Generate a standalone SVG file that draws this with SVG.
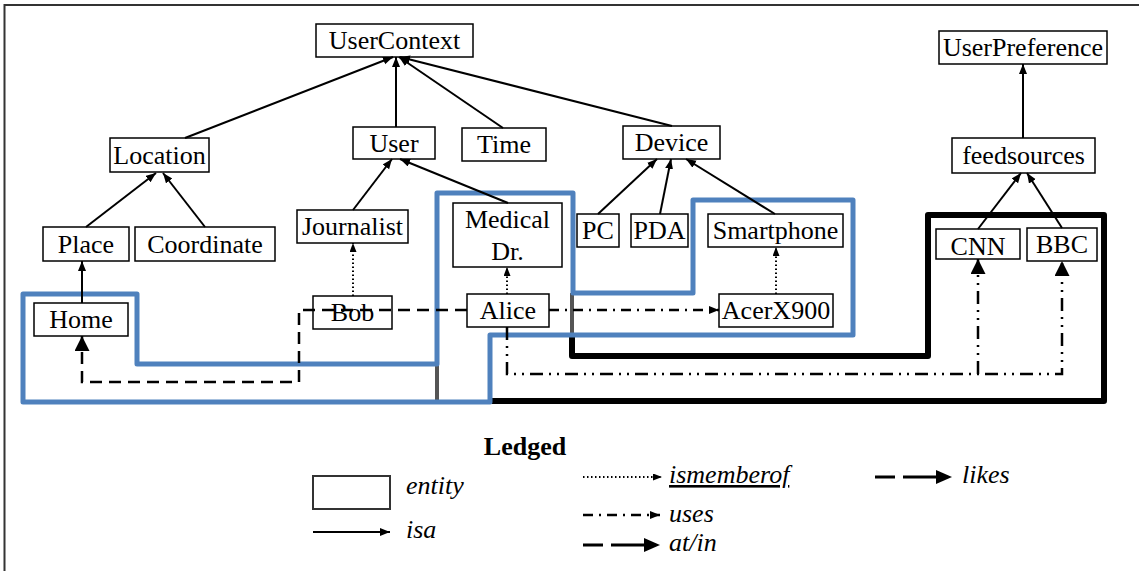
<svg xmlns="http://www.w3.org/2000/svg" width="1139" height="571" viewBox="0 0 1139 571">
  <style>
    .box { fill: #fff; stroke: #000; stroke-width: 1.5; }
    .lbl { font-size: 26px; fill: #000; text-anchor: middle; }
    .leg { font-size: 26px; font-style: italic; fill: #000; }
    .isa { fill: none; stroke: #000; stroke-width: 2; }
    .member { fill: none; stroke: #000; stroke-width: 2; stroke-dasharray: 1.5 2.5; }
    .likes { fill: none; stroke: #000; stroke-width: 2.5; stroke-dasharray: 12 7; }
    .likesKey { fill: none; stroke: #000; stroke-width: 3; stroke-dasharray: 20 8 40; }
    .uses { fill: none; stroke: #000; stroke-width: 2.5; stroke-dasharray: 10 6 2 6; }
    .uses2 { fill: none; stroke: #000; stroke-width: 2.5; stroke-dasharray: 13 6 2 6 2 6; }
    .blue { fill: none; stroke: #4f81bd; stroke-width: 5; stroke-linejoin: round; }
    .black { fill: none; stroke: #000; stroke-width: 6; stroke-linejoin: round; }
    .grey { fill: none; stroke: #555; stroke-width: 4; }
  </style>
  <defs>
    <marker id="arrow" markerUnits="userSpaceOnUse" markerWidth="11" markerHeight="9" refX="10" refY="4" orient="auto">
      <path d="M0,0 L10,4 L0,8 z" fill="#000"/>
    </marker>
    <marker id="arrowSmall" markerUnits="userSpaceOnUse" markerWidth="10" markerHeight="8" refX="9" refY="3.5" orient="auto">
      <path d="M0,0 L9,3.5 L0,7 z" fill="#000"/>
    </marker>
    <marker id="arrowBig" markerUnits="userSpaceOnUse" markerWidth="16" markerHeight="16" refX="15" refY="7.5" orient="auto">
      <path d="M0,0 L15,7.5 L0,15 z" fill="#000"/>
    </marker>
    <marker id="arrowKey" markerUnits="userSpaceOnUse" markerWidth="17" markerHeight="15" refX="0" refY="7" orient="auto">
      <path d="M0,0 L16,7 L0,14 z" fill="#000"/>
    </marker>
  </defs>

  <rect width="1139" height="571" fill="#fff"/>
  <!-- frame -->
  <path d="M4.5,571 V5 H1139" fill="none" stroke="#333" stroke-width="2"/>

  <!-- grouping outlines -->
  <g id="regions">
    <path class="black" d="M572,335 V356 H928 V215 H1104 V401 H490"/>
    <path class="grey" d="M572,293 V337 M437,364 V402"/>
    <path class="blue" d="M23,294 H137 V364 H437 V193 H573 V293 H693 V200 H853 V335 H490 V402 H23 Z"/>
  </g>

  <!-- entities -->
  <g id="nodes" font-family="Liberation Serif, Times New Roman, serif">
    <g id="UserContext"><rect class="box" x="316" y="24" width="157" height="33"/><text class="lbl" x="394.5" y="49">UserContext</text></g>
    <g id="Location"><rect class="box" x="110" y="138" width="99" height="34"/><text class="lbl" x="159.5" y="164">Location</text></g>
    <g id="User"><rect class="box" x="353" y="127" width="82" height="32"/><text class="lbl" x="394" y="152">User</text></g>
    <g id="Time"><rect class="box" x="462" y="128" width="84" height="33"/><text class="lbl" x="504" y="153">Time</text></g>
    <g id="Device"><rect class="box" x="623" y="126" width="97" height="33"/><text class="lbl" x="671.5" y="151">Device</text></g>
    <g id="UserPreference"><rect class="box" x="939" y="31" width="168" height="33"/><text class="lbl" x="1023" y="56">UserPreference</text></g>
    <g id="feedsources"><rect class="box" x="952" y="138" width="143" height="35"/><text class="lbl" x="1023.5" y="164">feedsources</text></g>
    <g id="Place"><rect class="box" x="43" y="227" width="86" height="34"/><text class="lbl" x="86" y="253">Place</text></g>
    <g id="Coordinate"><rect class="box" x="135" y="227" width="140" height="34"/><text class="lbl" x="205" y="253">Coordinate</text></g>
    <g id="Journalist"><rect class="box" x="297" y="210" width="111" height="33"/><text class="lbl" x="352.5" y="235">Journalist</text></g>
    <g id="MedicalDr"><rect class="box" x="453" y="203" width="109" height="64"/><text class="lbl" x="507.5" y="228">Medical</text><text class="lbl" x="507.5" y="260">Dr.</text></g>
    <g id="PC"><rect class="box" x="577" y="214" width="42" height="33"/><text class="lbl" x="598" y="239">PC</text></g>
    <g id="PDA"><rect class="box" x="631" y="214" width="57" height="33"/><text class="lbl" x="659.5" y="239">PDA</text></g>
    <g id="Smartphone"><rect class="box" x="708" y="214" width="135" height="33"/><text class="lbl" x="775.5" y="239">Smartphone</text></g>
    <g id="CNN"><rect class="box" x="936" y="229" width="84" height="30"/><text class="lbl" x="978" y="255">CNN</text></g>
    <g id="BBC"><rect class="box" x="1027" y="228" width="70" height="33"/><text class="lbl" x="1062" y="253">BBC</text></g>
    <g id="Home"><rect class="box" x="34" y="303" width="94" height="33"/><text class="lbl" x="81" y="328">Home</text></g>
    <g id="Bob"><rect class="box" x="313" y="296" width="79" height="33"/><text class="lbl" x="352.5" y="321">Bob</text></g>
    <g id="Alice"><rect class="box" x="467" y="294" width="82" height="33"/><text class="lbl" x="508" y="319">Alice</text></g>
    <g id="AcerX900"><rect class="box" x="719" y="294" width="114" height="33"/><text class="lbl" x="776" y="319">AcerX900</text></g>
  </g>

  <!-- relations -->
  <g id="connectors">
    <!-- isa -->
    <path class="isa" marker-end="url(#arrow)" d="M185,138 L393,57"/>
    <path class="isa" marker-end="url(#arrow)" d="M396,127 L396,57"/>
    <path class="isa" marker-end="url(#arrow)" d="M503,128 L399,57"/>
    <path class="isa" marker-end="url(#arrow)" d="M672,126 L400,57"/>
    <path class="isa" marker-end="url(#arrow)" d="M86,227 L156,173"/>
    <path class="isa" marker-end="url(#arrow)" d="M205,227 L163,173"/>
    <path class="isa" marker-end="url(#arrow)" d="M82,303 L82,261"/>
    <path class="isa" marker-end="url(#arrow)" d="M353,210 L392,159"/>
    <path class="isa" marker-end="url(#arrow)" d="M508,203 L400,159"/>
    <path class="isa" marker-end="url(#arrow)" d="M598,214 L657,159"/>
    <path class="isa" marker-end="url(#arrow)" d="M660,214 L671,159"/>
    <path class="isa" marker-end="url(#arrow)" d="M775,214 L686,159"/>
    <path class="isa" marker-end="url(#arrow)" d="M978,229 L1021,173"/>
    <path class="isa" marker-end="url(#arrow)" d="M1062,228 L1027,173"/>
    <path class="isa" marker-end="url(#arrow)" d="M1023,138 L1023,64"/>
    <!-- ismemberof -->
    <path class="member" marker-end="url(#arrowSmall)" d="M353,296 L353,243"/>
    <path class="member" marker-end="url(#arrowSmall)" d="M507,294 L507,267"/>
    <path class="member" marker-end="url(#arrowSmall)" d="M776,294 L776,247"/>
    <!-- likes / at-in -->
    <path class="likes" marker-end="url(#arrowBig)" d="M467,310 H299 V382 H82 V336"/>
    <!-- uses -->
    <path class="uses" marker-end="url(#arrow)" d="M549,310 H719"/>
    <path class="uses2" marker-end="url(#arrowBig)" d="M507,327 V374 H1062 V261"/>
    <path class="uses2" marker-end="url(#arrowBig)" d="M978,374 V259"/>
  </g>

  <!-- legend -->
  <g id="legend" font-family="Liberation Serif, Times New Roman, serif">
    <text x="525" y="455" font-size="26" font-weight="bold" text-anchor="middle">Ledged</text>
    <rect x="313" y="476" width="77" height="33" fill="#fff" stroke="#333" stroke-width="2"/>
    <text class="leg" x="406" y="494">entity</text>
    <path class="isa" marker-end="url(#arrow)" d="M313,532 H390"/>
    <text class="leg" x="406" y="538">isa</text>
    <path class="member" marker-end="url(#arrowSmall)" d="M583,477 H662"/>
    <text class="leg" x="669" y="483" text-decoration="underline">ismemberof</text>
    <path class="uses" marker-end="url(#arrow)" d="M583,515 H660"/>
    <text class="leg" x="669" y="522">uses</text>
    <path class="likesKey" marker-end="url(#arrowKey)" d="M583,545 H644"/>
    <text class="leg" x="669" y="551">at/in</text>
    <path class="likesKey" marker-end="url(#arrowKey)" d="M875,477 H936"/>
    <text class="leg" x="962" y="483">likes</text>
  </g>
</svg>
